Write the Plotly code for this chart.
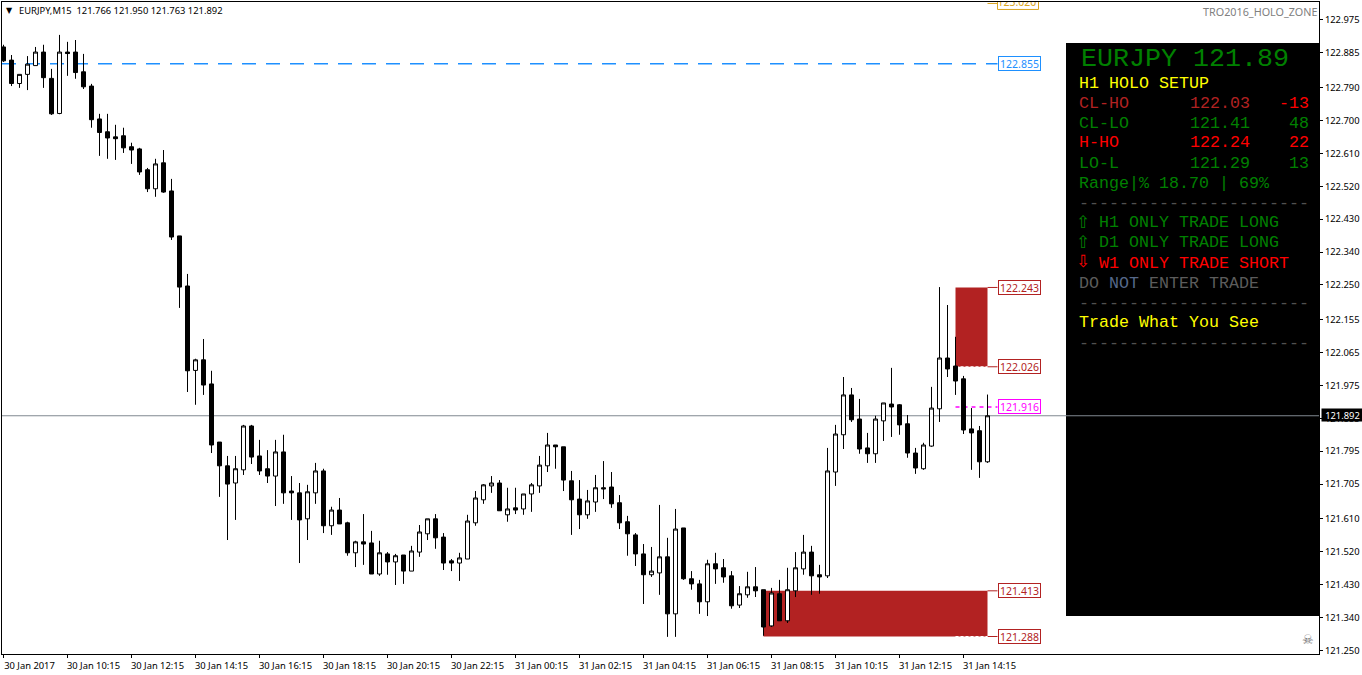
import pandas as pd
import plotly.graph_objects as go

# EURJPY M15 candles
opens = [
    122.901, 122.865, 122.801, 122.826, 122.850, 122.887, 122.815, 122.719, 122.887, 122.887,
    122.833, 122.794, 122.704, 122.669, 122.655, 122.658, 122.628, 122.622, 122.565, 122.513,
    122.584, 122.507, 122.384, 122.247, 122.016, 122.045, 121.979, 121.820, 121.755, 121.708,
    121.744, 121.864, 121.782, 121.747, 121.727, 121.793, 121.686, 121.681, 121.610, 121.681,
    121.741, 121.591, 121.634, 121.599, 121.517, 121.547, 121.544, 121.459, 121.514, 121.492,
    121.511, 121.467, 121.519, 121.569, 121.610, 121.560, 121.495, 121.489, 121.500, 121.599,
    121.662, 121.700, 121.708, 121.621, 121.640, 121.637, 121.678, 121.700, 121.755, 121.812,
    121.807, 121.714, 121.664, 121.621, 121.656, 121.695, 121.697, 121.654, 121.602, 121.566,
    121.514, 121.457, 121.462, 121.506, 121.350, 121.585, 121.446, 121.432, 121.383, 121.487,
    121.476, 121.454, 121.374, 121.402, 121.424, 121.416, 121.317, 121.405, 121.331, 121.413,
    121.473, 121.519, 121.457, 121.454, 121.738, 121.840, 121.949, 121.883, 121.804, 121.788,
    121.878, 121.924, 121.922, 121.870, 121.790, 121.747, 121.809, 121.911, 122.050, 122.028,
    121.993, 121.856, 121.851, 121.766,
]
highs = [
    122.907, 122.879, 122.826, 122.876, 122.901, 122.907, 122.841, 122.934, 122.915, 122.920,
    122.882, 122.800, 122.718, 122.718, 122.688, 122.680, 122.639, 122.625, 122.570, 122.595,
    122.619, 122.540, 122.384, 122.280, 122.048, 122.102, 122.015, 121.820, 121.782, 121.782,
    121.867, 121.867, 121.826, 121.798, 121.826, 121.840, 121.727, 121.708, 121.703, 121.763,
    121.747, 121.643, 121.667, 121.602, 121.550, 121.623, 121.577, 121.550, 121.519, 121.514,
    121.511, 121.536, 121.593, 121.610, 121.623, 121.571, 121.500, 121.517, 121.621, 121.686,
    121.705, 121.727, 121.716, 121.695, 121.695, 121.678, 121.708, 121.782, 121.845, 121.812,
    121.807, 121.741, 121.716, 121.689, 121.730, 121.768, 121.738, 121.675, 121.618, 121.571,
    121.541, 121.533, 121.648, 121.558, 121.637, 121.585, 121.467, 121.443, 121.498, 121.517,
    121.500, 121.467, 121.426, 121.465, 121.478, 121.416, 121.421, 121.443, 121.476, 121.519,
    121.566, 121.536, 121.484, 121.804, 121.867, 121.998, 121.968, 121.938, 121.845, 121.892,
    121.927, 122.023, 121.924, 121.894, 121.804, 121.818, 121.971, 122.244, 122.195, 122.108,
    122.001, 121.913, 121.864, 121.950,
]
lows = [
    122.860, 122.794, 122.789, 122.783, 122.850, 122.789, 122.715, 122.717, 122.822, 122.814,
    122.786, 122.680, 122.603, 122.595, 122.592, 122.611, 122.581, 122.551, 122.504, 122.491,
    122.502, 122.373, 122.187, 121.957, 121.922, 121.949, 121.790, 121.670, 121.552, 121.607,
    121.730, 121.760, 121.730, 121.708, 121.645, 121.651, 121.607, 121.489, 121.552, 121.651,
    121.571, 121.566, 121.596, 121.509, 121.478, 121.484, 121.459, 121.454, 121.457, 121.429,
    121.432, 121.467, 121.506, 121.552, 121.528, 121.470, 121.467, 121.440, 121.500, 121.591,
    121.651, 121.681, 121.632, 121.602, 121.623, 121.621, 121.629, 121.681, 121.738, 121.747,
    121.686, 121.566, 121.582, 121.610, 121.629, 121.664, 121.640, 121.582, 121.509, 121.481,
    121.377, 121.451, 121.402, 121.287, 121.287, 121.443, 121.416, 121.350, 121.344, 121.432,
    121.435, 121.364, 121.366, 121.394, 121.396, 121.290, 121.314, 121.331, 121.325, 121.396,
    121.457, 121.402, 121.405, 121.448, 121.700, 121.801, 121.875, 121.788, 121.763, 121.763,
    121.823, 121.834, 121.840, 121.777, 121.733, 121.744, 121.807, 121.875, 121.998, 121.949,
    121.842, 121.744, 121.722, 121.763,
]
closes = [
    122.863, 122.801, 122.826, 122.854, 122.887, 122.817, 122.718, 122.887, 122.883, 122.831,
    122.792, 122.702, 122.667, 122.652, 122.650, 122.625, 122.619, 122.559, 122.513, 122.581,
    122.504, 122.381, 122.244, 122.015, 122.045, 121.976, 121.812, 121.755, 121.705, 121.747,
    121.864, 121.779, 121.741, 121.727, 121.793, 121.681, 121.681, 121.607, 121.684, 121.741,
    121.591, 121.634, 121.596, 121.517, 121.547, 121.541, 121.459, 121.517, 121.492, 121.509,
    121.467, 121.522, 121.574, 121.610, 121.558, 121.489, 121.489, 121.503, 121.604, 121.667,
    121.703, 121.708, 121.632, 121.637, 121.634, 121.678, 121.703, 121.757, 121.812, 121.807,
    121.716, 121.662, 121.621, 121.659, 121.695, 121.692, 121.651, 121.599, 121.569, 121.514,
    121.457, 121.467, 121.506, 121.350, 121.582, 121.446, 121.432, 121.383, 121.487, 121.473,
    121.451, 121.372, 121.405, 121.424, 121.413, 121.314, 121.407, 121.331, 121.416, 121.476,
    121.519, 121.454, 121.451, 121.741, 121.842, 121.949, 121.881, 121.801, 121.788, 121.883,
    121.927, 121.916, 121.867, 121.790, 121.749, 121.812, 121.913, 122.050, 122.020, 121.987,
    121.853, 121.845, 121.766, 121.892,
]

y_ticks = [
    122.975, 122.885, 122.790, 122.700, 122.610, 122.520, 122.430, 122.340, 122.250, 122.155,
    122.065, 121.975, 121.885, 121.795, 121.705, 121.610, 121.520, 121.430, 121.340, 121.250,
]
x_tick_labels = [
    "30 Jan 2017", "30 Jan 10:15", "30 Jan 12:15", "30 Jan 14:15", "30 Jan 16:15", "30 Jan 18:15",
    "30 Jan 20:15", "30 Jan 22:15", "31 Jan 00:15", "31 Jan 02:15", "31 Jan 04:15", "31 Jan 06:15",
    "31 Jan 08:15", "31 Jan 10:15", "31 Jan 12:15", "31 Jan 14:15",
]

upper_zone = [122.026, 122.243]
lower_zone = [121.288, 121.413]
last_price = 121.892
blue_level = 122.855
pink_level = 121.916
gold_level = 123.020

AXIS_FONT = "Noto Sans"
AXIS_SIZE = 9.4
LABEL_SIZE = 10.5
PANEL_FONT = "Liberation Mono"
ZONE_RED = "#b22222"
GREEN = "#008000"
RED = "#ff0000"
YELLOW = "#ffff00"
DIM = "#505050"

# panel rows: text, x, y, color, anchor
panel_rows = [
    ("H1 HOLO SETUP", 1077, 83, YELLOW, "left"),
    ("CL-HO", 1077, 103, ZONE_RED, "left"),
    ("122.03", 1188, 103, ZONE_RED, "left"),
    ("-13", 1311, 103, RED, "right"),
    ("CL-LO", 1077, 123, GREEN, "left"),
    ("121.41", 1188, 123, GREEN, "left"),
    ("48", 1311, 123, GREEN, "right"),
    ("H-HO", 1077, 143, RED, "left"),
    ("122.24", 1188, 143, RED, "left"),
    ("22", 1311, 143, RED, "right"),
    ("LO-L", 1077, 163, GREEN, "left"),
    ("121.29", 1188, 163, GREEN, "left"),
    ("13", 1311, 163, GREEN, "right"),
    ("Range|% 18.70 | 69%", 1077, 183, GREEN, "left"),
    ("-" * 23, 1077, 203, DIM, "left"),
    ("H1 ONLY TRADE LONG", 1097, 223, GREEN, "left"),
    ("D1 ONLY TRADE LONG", 1097, 243, GREEN, "left"),
    ("W1 ONLY TRADE SHORT", 1097, 263, RED, "left"),
    ('<span style="color:#5c5c5c">DO</span> <span style="color:#56688a">NOT</span> '
     '<span style="color:#5c5c5c">ENTER TRADE</span>', 1077, 283, DIM, "left"),
    ("-" * 23, 1077, 303, DIM, "left"),
    ("Trade What You See", 1077, 323, YELLOW, "left"),
    ("-" * 23, 1077, 343, DIM, "left"),
]
panel_arrows = [("\u21e7", 222, GREEN), ("\u21e7", 242, GREEN), ("\u21e9", 261, RED)]

# plot box in page pixels, one candle every 8px
PLOT_L, PLOT_R, PLOT_T, PLOT_B = 2, 1319, 2, 654
PX_PER_BAR = 8
PX_PER_PRICE = 365.5
FIRST_BAR_PX = 3.5


def px(x):
    return (x - PLOT_L) / (PLOT_R - PLOT_L)


def py(y):
    return 1 - (y - PLOT_T) / (PLOT_B - PLOT_T)


def add_text(text, x, y, font, anchor="left", **kwargs):
    fig.add_annotation(xref="paper", yref="paper", x=px(x), y=py(y), text=text, showarrow=False,
                       xanchor=anchor, yanchor="middle", font=font, **kwargs)


times = pd.date_range("2017-01-30 08:15", periods=len(closes), freq="15min")
bar = pd.Timedelta(minutes=15)
x_start = times[0] - bar * (FIRST_BAR_PX - PLOT_L) / PX_PER_BAR
x_end = x_start + bar * (PLOT_R - PLOT_L) / PX_PER_BAR
y_top = 123.024
y_bottom = y_top - (PLOT_B - PLOT_T) / PX_PER_PRICE
label_x = times[-1] + bar * 10 / PX_PER_BAR

fig = go.Figure()
fig.add_trace(go.Candlestick(
    x=times, open=opens, high=highs, low=lows, close=closes,
    increasing=dict(line=dict(color="black", width=1), fillcolor="white"),
    decreasing=dict(line=dict(color="black", width=1), fillcolor="black"),
    whiskerwidth=0,
    hoverinfo="skip",
    showlegend=False,
))
# this one is cut off by the top of the chart, so it has to clip with the axes
fig.add_trace(go.Scatter(
    x=[label_x], y=[gold_level], mode="text", text=[f"{gold_level:.3f}"],
    textposition="middle right", textfont=dict(family=AXIS_FONT, size=LABEL_SIZE, color="#daa520"),
    cliponaxis=True, showlegend=False, hoverinfo="skip",
))

# panel and price line, price line stays visible on the panel
fig.add_shape(type="rect", xref="paper", yref="paper", x0=px(1066), x1=1, y0=py(616), y1=py(43),
              fillcolor="black", line_width=0, layer="below")
fig.add_shape(type="line", xref="paper", yref="y", x0=0, x1=1, y0=last_price, y1=last_price,
              line=dict(color="#808890", width=1), layer="below")

# holo zones
fig.add_shape(type="rect", x0=times[119], x1=times[123], y0=upper_zone[0], y1=upper_zone[1],
              fillcolor=ZONE_RED, line_width=0, layer="below")
fig.add_shape(type="rect", x0=times[95], x1=times[123], y0=lower_zone[0], y1=lower_zone[1],
              fillcolor=ZONE_RED, line_width=0, layer="below")

# level lines going to the labels
fig.add_shape(type="line", x0=x_start, x1=label_x, y0=blue_level, y1=blue_level,
              line=dict(color="#1e90ff", width=1.4, dash="14px,10px"), layer="below")
fig.add_shape(type="line", x0=times[119], x1=label_x, y0=pink_level, y1=pink_level,
              line=dict(color="#ff00ff", width=1.4, dash="4px,4px"), layer="below")
for level in upper_zone + lower_zone:
    fig.add_shape(type="line", x0=times[123], x1=label_x, y0=level, y1=level,
                  line=dict(color=ZONE_RED, width=1), layer="below")
for level in [upper_zone[0], lower_zone[0]]:
    fig.add_shape(type="line", x0=times[119], x1=times[123], y0=level, y1=level,
                  line=dict(color="white", width=1, dash="3px,2px"), layer="below")
fig.add_shape(type="line", x0=times[123], x1=label_x, y0=gold_level, y1=gold_level,
              line=dict(color="#daa520", width=1), layer="below")
fig.add_shape(type="rect", x0=label_x, x1=label_x + bar * 41 / PX_PER_BAR,
              y0=gold_level - 6 / PX_PER_PRICE, y1=gold_level + 7 / PX_PER_PRICE,
              line=dict(color="#daa520", width=1), fillcolor="rgba(0,0,0,0)")

for level, color in [(blue_level, "#1e90ff"), (upper_zone[1], ZONE_RED), (upper_zone[0], ZONE_RED),
                     (pink_level, "#ff00ff"), (lower_zone[1], ZONE_RED), (lower_zone[0], ZONE_RED)]:
    fig.add_annotation(
        x=label_x, y=level, text=f"{level:.3f}", showarrow=False, xanchor="left", yanchor="middle",
        font=dict(family=AXIS_FONT, size=LABEL_SIZE, color=color),
        bgcolor="white", bordercolor=color, borderwidth=1, borderpad=0,
        width=41, height=13,
    )

add_text(f"{last_price:.3f}", 1321, 415.5, dict(family=AXIS_FONT, size=AXIS_SIZE, color="white"),
         bgcolor="black", borderpad=0, width=41, height=12)

# header texts
add_text("EURJPY,M15\u00a0\u00a0121.766 121.950 121.763 121.892", 17, 10.5,
         dict(family=AXIS_FONT, size=AXIS_SIZE, color="black"))
add_text("\u25bc", 9, 10, dict(family="DejaVu Sans", size=8, color="black"), anchor="center")
add_text("TRO2016_HOLO_ZONE", 1319, 11, dict(family=AXIS_FONT, size=10.8, color="#808080"), anchor="right")
add_text("\u2620", 1308, 639, dict(family="DejaVu Sans", size=13, color="#707070"), anchor="center")

# info panel
add_text("EURJPY 121.89", 1079, 59, dict(family=PANEL_FONT, size=26.67, color=GREEN))
for text, x, y, color, anchor in panel_rows:
    add_text(text, x, y, dict(family=PANEL_FONT, size=16.67, color=color), anchor=anchor)
for text, y, color in panel_arrows:
    add_text(text, 1083, y, dict(family="DejaVu Sans", size=17, color=color), anchor="center")

fig.update_layout(
    width=1362,
    height=675,
    margin=dict(l=PLOT_L, r=1362 - PLOT_R, t=PLOT_T, b=675 - PLOT_B, autoexpand=False),
    plot_bgcolor="white",
    paper_bgcolor="white",
    showlegend=False,
    boxgap=0.5,
    boxgroupgap=0,
    xaxis=dict(
        type="date",
        range=[x_start, x_end],
        rangeslider=dict(visible=False),
        showgrid=False,
        zeroline=False,
        showline=True,
        mirror=True,
        linecolor="black",
        linewidth=1,
        ticks="outside",
        ticklen=3,
        tickcolor="black",
        tickmode="array",
        tickvals=list(times[::8]),
        ticktext=x_tick_labels,
        tickangle=0,
        ticklabelshift=26,
        tickfont=dict(family=AXIS_FONT, size=AXIS_SIZE, color="black"),
    ),
    yaxis=dict(
        side="right",
        range=[y_bottom, y_top],
        showgrid=False,
        zeroline=False,
        showline=True,
        mirror=True,
        linecolor="black",
        linewidth=1,
        ticks="outside",
        ticklen=3,
        tickcolor="black",
        tickmode="array",
        tickvals=y_ticks,
        ticktext=[f"{v:.3f}" for v in y_ticks],
        tickfont=dict(family=AXIS_FONT, size=AXIS_SIZE, color="black"),
    ),
)

# page margin would push the chart 8px off
fig.write_html("out.html", config=dict(displayModeBar=False),
               post_script="document.body.style.margin='0';")
